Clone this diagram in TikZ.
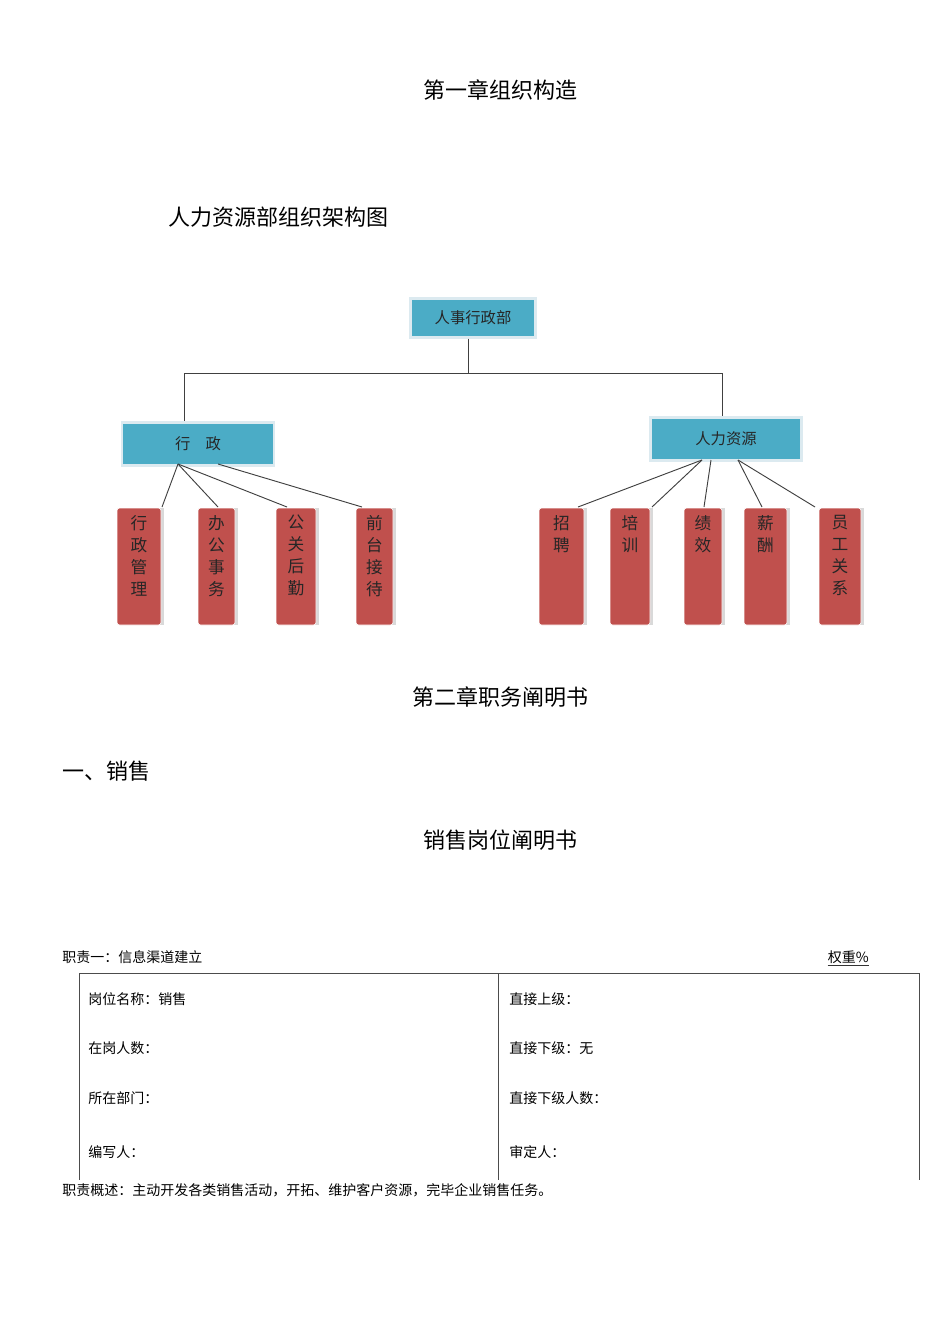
\documentclass[tikz,border=0pt]{standalone}
\usepackage{fontspec}
\usetikzlibrary{calc}
\setmainfont{Noto Sans CJK SC}
\begin{document}
\begin{tikzpicture}[x=0.75pt,y=-0.75pt,
  title/.style={font=\fontsize{16.5}{18}\selectfont, inner sep=0},
  body/.style={font=\fontsize{10.5}{12}\selectfont, anchor=west, inner sep=0},
  teal/.style={fill=tealc, draw=tealb, line width=2pt, font=\fontsize{11.5}{13}\selectfont, text=black!85},
  redbox/.style={fill=redc, draw=white, rounded corners=2pt, font=\fontsize{12.5}{15}\selectfont, text=black!85, align=center, anchor=north west, inner sep=0},
  conn/.style={draw=black!75, line width=0.7pt}]
\definecolor{tealc}{HTML}{4BACC6}
\definecolor{tealb}{HTML}{DCEAF0}
\definecolor{redc}{HTML}{C0504D}
\useasboundingbox (0,0) rectangle (950,1344);
\node[title] (t1) at (500,90) {第一章组织构造};
\node[title, anchor=west] (t2) at (168,217) {人力资源部组织架构图};
% top boxes
\node[teal, minimum width=94pt, minimum height=29pt] (top) at (473,318) {人事行政部};
\node[teal, minimum width=114pt, minimum height=32pt] (xz) at (198,444) {行\quad 政};
\node[teal, minimum width=113pt, minimum height=32pt] (rl) at (726,439) {人力资源};
\coordinate (jt) at (468,373);
\coordinate (jl) at (184,373);
\coordinate (jr) at (722,373);
\draw[conn] (top.south -| jt) -- (jt);
\draw[conn] (jl) -- (jr);
\draw[conn] (jl) -- (xz.north -| jl);
\draw[conn] (jr) -- (rl.north -| jr);
% red boxes
\newcommand{\rbox}[4]{\fill[black!15] (#2+2,508) rectangle (#3+3,625);
  \draw[redbox, fill=redc] (#2,508) rectangle (#3,625);
  \node[font=\fontsize{12.5}{16.5}\selectfont, text=black!85, align=center, anchor=north, inner sep=0] (#1) at ({(#2+#3)/2},515) {#4};}
\rbox{a1}{117}{161}{行\\政\\管\\理}
\rbox{a2}{198}{235}{办\\公\\事\\务}
\rbox{a3}{276}{316}{公\\关\\后\\勤}
\rbox{a4}{356}{393}{前\\台\\接\\待}
\rbox{b1}{539}{584}{招\\聘}
\rbox{b2}{610}{650}{培\\训}
\rbox{b3}{684}{722}{绩\\效}
\rbox{b4}{744}{787}{薪\\酬}
\rbox{b5}{819}{861}{员\\工\\关\\系}
\coordinate (s1) at (178,464);
\coordinate (s2) at (218,464);
\coordinate (r1) at (702,460);
\coordinate (r2) at (711,460);
\coordinate (r3) at (738,460);
\draw[conn] (s1) -- (162,507);
\draw[conn] (s1) -- (218,507);
\draw[conn] (s1) -- (287,507);
\draw[conn] (s2) -- (362,507);
\draw[conn] (r1) -- (578,507);
\draw[conn] (r1) -- (652,507);
\draw[conn] (r2) -- (704,507);
\draw[conn] (r3) -- (762,507);
\draw[conn] (r3) -- (815,507);
% chapter 2
\node[title] (t3) at (500,697) {第二章职务阐明书};
\node[title, anchor=west] (t4) at (62,771) {一、销售};
\node[title] (t5) at (500,840) {销售岗位阐明书};
\node[body] (z1) at (62,957) {职责一：信息渠道建立};
\node[body, anchor=east] (qz) at (869,957) {权重\%};
\draw[black!80, line width=0.6pt] ($(qz.south west)+(0,2)$) -- ($(qz.south east)+(0,2)$);
\draw[black!70, line width=0.6pt] (79,973) -- (919,973);
\draw[black!70, line width=0.6pt] (79,973) -- (79,1180);
\draw[black!70, line width=0.6pt] (498,973) -- (498,1180);
\draw[black!70, line width=0.6pt] (919,973) -- (919,1180);
\node[body] (c1) at (88,999) {岗位名称：销售};
\node[body] (c2) at (88,1048) {在岗人数：};
\node[body] (c3) at (88,1098) {所在部门：};
\node[body] (c4) at (88,1152) {编写人：};
\node[body] (d1) at (509,999) {直接上级：};
\node[body] (d2) at (509,1048) {直接下级：无};
\node[body] (d3) at (509,1098) {直接下级人数：};
\node[body] (d4) at (509,1152) {审定人：};
\node[body] (gs) at (62,1190) {职责概述：主动开发各类销售活动，开拓、维护客户资源，完毕企业销售任务。};
\end{tikzpicture}
\end{document}
